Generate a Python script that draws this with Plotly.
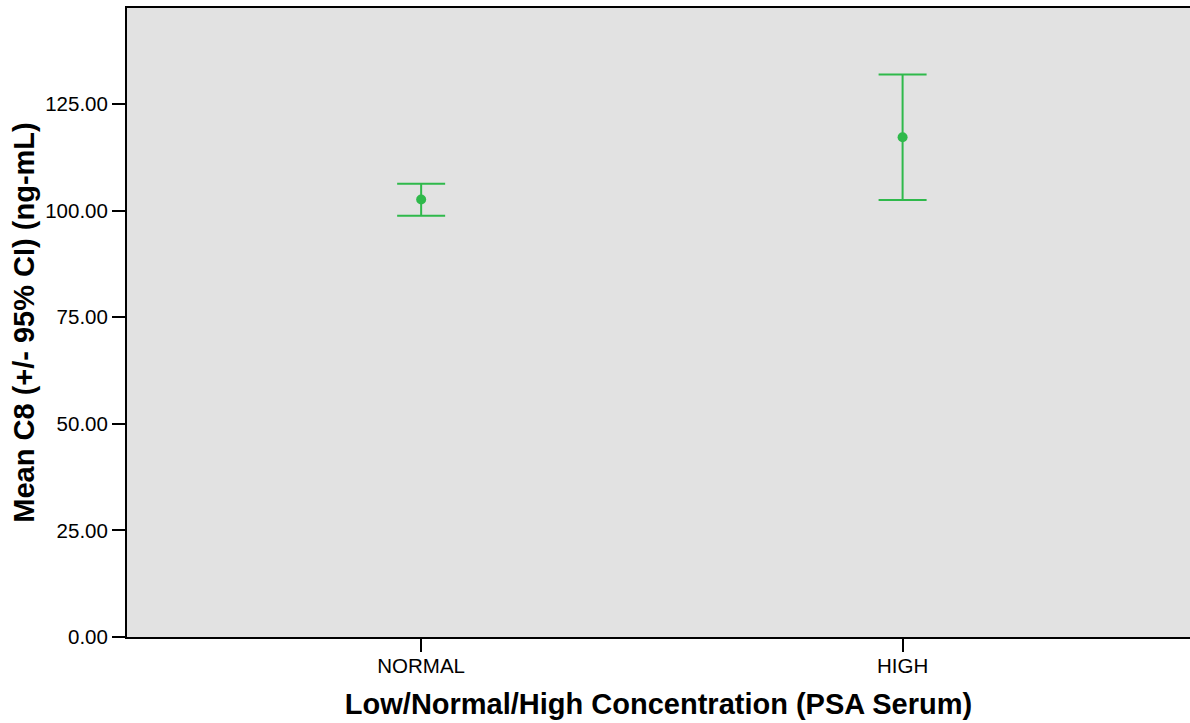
import plotly.graph_objects as go

categories = ["NORMAL", "HIGH"]
means = [102.6, 117.2]
upper = [106.3, 131.9]
lower = [98.8, 102.5]
y_ticks = [0, 25, 50, 75, 100, 125]

err_plus = [u - m for u, m in zip(upper, means)]
err_minus = [m - l for m, l in zip(means, lower)]
xpos = list(range(len(categories)))

green = "#2fb94b"

fig = go.Figure()
fig.add_trace(go.Scatter(
    x=xpos, y=means, mode="markers",
    marker=dict(color=green, size=10),
    error_y=dict(type="data", symmetric=False, array=err_plus, arrayminus=err_minus,
                 color=green, thickness=2, width=24),
    showlegend=False,
))

font_family = "Liberation Sans, Arial, sans-serif"
fig.update_layout(
    width=1190, height=723,
    margin=dict(l=127, r=0, t=8, b=86),
    paper_bgcolor="white",
    plot_bgcolor="#e2e2e2",
    font=dict(family=font_family, color="black"),
    xaxis=dict(
        range=[-0.611, 1.597],
        tickmode="array", tickvals=xpos, ticktext=categories,
        showgrid=False, zeroline=False,
        showline=True, linecolor="black", linewidth=2, mirror=True,
        ticks="outside", ticklen=13, tickwidth=2, tickcolor="black",
        ticklabelstandoff=-4,
        tickfont=dict(size=20.5, family=font_family),
        title=dict(text="<b>Low/Normal/High Concentration (PSA Serum)</b>",
                   font=dict(size=29, family=font_family), standoff=18),
    ),
    yaxis=dict(
        range=[0, 147.5],
        tickmode="array", tickvals=y_ticks,
        tickformat=".2f",
        showgrid=False, zeroline=False,
        showline=True, linecolor="black", linewidth=2,
        ticks="outside", ticklen=13, tickwidth=2, tickcolor="black",
        tickfont=dict(size=20.5, family=font_family),
        title=dict(text="<b>Mean C8 (+/- 95% CI) (ng-mL)</b>",
                   font=dict(size=29, family=font_family), standoff=2),
    ),
)

fig.write_html("out.html", config={"displayModeBar": False},
               post_script="document.body.style.margin='0';")
